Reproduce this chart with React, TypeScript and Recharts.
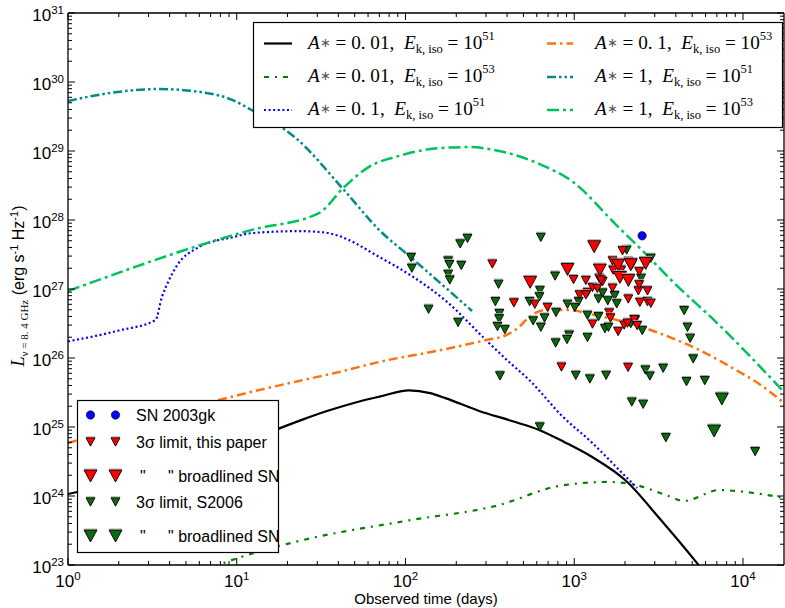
import React from 'react';
import { ComposedChart, Line, Scatter, XAxis, YAxis, Legend } from 'recharts';

const SANS = "'Liberation Sans', Arial, Helvetica, sans-serif";
const SERIF = "'Liberation Serif', 'Times New Roman', serif";

// ---- model light curves: [observed time (days), L (erg s^-1 Hz^-1)] ----
const curveA001E51: [number, number][] = [
  [1, 1.07e24], [2, 1.55e24], [4, 2.3e24], [8, 4.0e24], [12, 6.2e24], [17, 9.06e24],
  [25, 1.3e25], [35, 1.73e25], [50, 2.25e25], [70, 2.75e25], [105, 3.4e25], [140, 3.1e25],
  [174, 2.6e25], [273, 1.71e25], [428, 1.22e25], [620, 9.06e24], [871, 6.07e24], [1277, 3.67e24],
  [2032, 1.65e24], [3187, 4.8e23], [5284, 1.1e23], [8000, 3e22],
];
const curveA001E53: [number, number][] = [
  [4.5, 5.7e22], [9, 1.14e23], [23.4, 2.23e23], [100, 4.35e23], [359, 7.4e23],
  [813, 1.4e24], [1610, 1.6e24], [2330, 1.44e24], [3505, 1.03e24], [4480, 8.5e23],
  [7220, 1.22e24], [10450, 1.14e24], [17540, 9.35e23],
];
const curveA01E51: [number, number][] = [
  [1, 1.74e26], [2, 2.5e26], [3.3, 3.55e26], [3.6, 7.6e26], [3.97, 1.35e27],
  [4.37, 2.09e27], [6, 4.07e27], [9.4, 5.6e27], [12.3, 6.46e27], [23.4, 6.9e27],
  [33, 6.6e27], [40.4, 5.86e27], [70, 2.91e27], [109, 1.54e27], [174, 6.7e26],
  [300, 1.82e26], [411, 8.75e25], [541, 4.8e25], [848, 1.44e25], [1277, 5.9e24],
  [2032, 1.88e24], [2360, 1.31e24],
];
const curveA01E53: [number, number][] = [
  [1, 5.86e24], [7.86, 2.46e25], [13.6, 3.44e25], [23.4, 4.65e25], [40.4, 6.27e25],
  [69.7, 8.75e25], [174, 1.35e26], [300, 1.82e26], [395, 2.15e26], [471, 2.81e26],
  [541, 3.93e26], [681, 4.97e26], [895, 4.97e26], [1406, 4.06e26], [2205, 3.11e26],
  [3652, 2.02e26], [5500, 1.31e26], [8630, 7.2e25], [12470, 4.2e25], [17540, 2.23e25],
];
const curveA1E51: [number, number][] = [
  [1, 5.3e29], [1.75, 6.9e29], [3.46, 7.9e29], [6, 7.2e29], [9.4, 5.5e29],
  [12.3, 3.9e29], [22.4, 1.54e29], [43.3, 2.7e28], [69.7, 7.2e27], [109, 2.8e27],
  [174, 1.03e27], [248, 4.8e26],
];
const curveA1E53: [number, number][] = [
  [1, 9.35e26], [12.3, 7.2e27], [30.7, 1.26e28], [43.3, 3.0e28], [60.8, 5.9e28],
  [91.6, 8.5e28], [158, 1.1e29], [238, 1.14e29], [359, 1.0e29], [620, 6.5e28],
  [985, 3.55e28], [1771, 8.5e27], [2597, 3.4e27], [3752, 1.35e27], [7228, 3.0e26],
  [17540, 3.2e25],
];

// ---- observations ----
const sn2003gk: [number, number][] = [[2525, 5.9e27]];
const limitsThisPaper: [number, number][] = [
  [327, 2.3e27], [439, 6.3e26], [584, 6.0e26], [695, 5.4e26], [990, 1.37e27],
  [1172, 1.33e27], [1198, 8.9e26], [1283, 1.05e27], [1370, 1.02e27], [1406, 1.43e27],
  [1473, 1.28e27], [1686, 1.03e27], [1700, 1.88e27], [1897, 1.88e27], [1932, 3.58e27],
  [2090, 7.16e26], [2426, 1.78e27], [2400, 9.4e26], [2716, 9.4e26], [2449, 6.4e26],
  [2716, 6.55e26], [2844, 6.2e26], [1283, 3.1e26], [1610, 4.5e26], [1640, 3.8e26],
  [1820, 2.42e26], [1977, 3.0e26], [2068, 3.2e26], [2264, 3.6e26], [2360, 2.95e26],
  [840, 7.4e25], [2085, 7.3e25], [1686, 2.55e27], [1800, 2.27e27], [2094, 2.5e27],
  [2205, 2.27e27], [1075, 8.2e26], [1172, 8.2e26], [2426, 1.15e27], [1440, 1.35e27],
];
const limitsThisPaperBL: [number, number][] = [
  [548, 1.25e27], [912, 1.92e27], [1313, 4.1e27], [1418, 1.88e27], [1820, 2.22e27],
  [2163, 2.25e27], [1865, 1.47e27], [2094, 1.33e27], [2650, 2.35e27],
];
const limitsS2006: [number, number][] = [
  [233, 5.4e27], [211, 4.5e27], [108, 2.86e27], [109, 2.0e27], [179, 2.55e27],
  [182, 2.25e27], [214, 2.19e27], [179, 1.63e27], [183, 1.35e27], [137, 5.08e26],
  [205, 3.27e26], [634, 5.6e27], [356, 1.17e27], [341, 6.55e26], [360, 4.4e26],
  [359, 3.7e26], [351, 2.85e26], [388, 2.57e26], [544, 6.55e26], [626, 9.5e26],
  [622, 7.7e26], [634, 2.79e26], [571, 3.45e26], [667, 3.8e26], [770, 1.54e27],
  [780, 4.56e26], [776, 1.65e26], [912, 6.0e26], [933, 2.15e26], [906, 1.85e26],
  [1062, 6.55e26], [1008, 5.4e26], [1198, 1.98e26], [1198, 4.15e26], [1392, 3.97e26],
  [1392, 7.16e26], [1580, 6.75e26], [1473, 8.75e26], [1735, 8.0e26], [1786, 6.1e26],
  [2045, 3.67e27], [2490, 1.43e27], [2844, 2.79e27], [363, 5.5e25], [1021, 5.6e25],
  [1238, 4.96e25], [1545, 5.6e25], [2640, 6.7e25], [2806, 5.48e25], [2193, 2.3e25],
  [2560, 2.13e25], [1520, 2.66e26], [1595, 2.79e26], [2163, 3.15e26], [2296, 3.56e26],
  [2530, 2.5e26], [4480, 4.85e26], [4688, 2.79e26], [4864, 1.93e26], [5070, 9.7e25],
  [3365, 7.1e25], [4625, 4.54e25], [5940, 4.7e25], [3493, 7.0e24], [11800, 4.4e24],
  [625, 1.0e25],
];
const limitsS2006BL: [number, number][] = [[7497, 2.55e25], [6745, 8.75e24]];

// ---- axes ----
const X_MIN = 1;
const X_MAX = 17500;
const Y_MIN = 1e23;
const Y_MAX = 1e31;
const xMajorExponents = [0, 1, 2, 3, 4];
const yMajorExponents = [23, 24, 25, 26, 27, 28, 29, 30, 31];
const minorMultipliers = [1, 2, 3, 4, 5, 6, 7, 8, 9];

const xTicks: number[] = [];
xMajorExponents.forEach((e) => minorMultipliers.forEach((m) => {
  const v = m * Math.pow(10, e);
  if (v <= X_MAX) xTicks.push(v);
}));
const yTicks: number[] = [];
yMajorExponents.forEach((e) => minorMultipliers.forEach((m) => {
  const v = m * Math.pow(10, e);
  if (v <= Y_MAX * 1.0001) yTicks.push(v);
}));

const toRows = (arr: [number, number][]) => arr.map(([t, L]) => ({ t, L }));

const COLORS = {
  black: '#000000',
  dkgreen: '#008000',
  blue: '#0000ff',
  orange: '#ff7410',
  teal: '#008b8b',
  green: '#00c25a',
  red: '#ff0000',
  obsGreen: '#0b6a0b',
};

const series = [
  { key: 'a001e51', data: curveA001E51, color: COLORS.black, dash: undefined as string | undefined, width: 2.2, a: '0. 01', e: '51' },
  { key: 'a001e53', data: curveA001E53, color: COLORS.dkgreen, dash: '5 6 2 6', width: 2.2, a: '0. 01', e: '53' },
  { key: 'a01e51', data: curveA01E51, color: COLORS.blue, dash: '2 2.6', width: 2.2, a: '0. 1', e: '51' },
  { key: 'a01e53', data: curveA01E53, color: COLORS.orange, dash: '9 4 2.5 4', width: 2.5, a: '0. 1', e: '53' },
  { key: 'a1e51', data: curveA1E51, color: COLORS.teal, dash: '9 3 2.5 3 2.5 3', width: 2.5, a: '1', e: '51' },
  { key: 'a1e53', data: curveA1E53, color: COLORS.green, dash: '12 4 3 4', width: 2.5, a: '1', e: '53' },
];

const isMajor = (v: number) => {
  const l = Math.log10(v);
  return Math.abs(l - Math.round(l)) < 1e-6;
};

const Pow10 = ({ x, y, exp, anchor }: { x: number; y: number; exp: number; anchor: string }) => (
  <text x={x} y={y} textAnchor={anchor} fontFamily={SANS} fontSize={17} fill="#000">
    <tspan>10</tspan>
    <tspan dy={-7} fontSize={11.5}>{exp}</tspan>
  </text>
);

const BottomTick = (p: any) => {
  const { x, y, payload } = p;
  const v = payload.value;
  const major = isMajor(v);
  return (
    <g>
      <line x1={x} x2={x} y1={y} y2={y - (major ? 7 : 4)} stroke="#000" strokeWidth={1} />
      {major && <Pow10 x={x} y={y + 22} exp={Math.round(Math.log10(v))} anchor="middle" />}
    </g>
  );
};
const TopTick = (p: any) => {
  const { x, y, payload } = p;
  const major = isMajor(payload.value);
  return <line x1={x} x2={x} y1={y} y2={y + (major ? 7 : 4)} stroke="#000" strokeWidth={1} />;
};
const LeftTick = (p: any) => {
  const { x, y, payload } = p;
  const v = payload.value;
  const major = isMajor(v);
  return (
    <g>
      <line x1={x} x2={x + (major ? 7 : 4)} y1={y} y2={y} stroke="#000" strokeWidth={1} />
      {major && <Pow10 x={x - 4} y={y + 8} exp={Math.round(Math.log10(v))} anchor="end" />}
    </g>
  );
};
const RightTick = (p: any) => {
  const { x, y, payload } = p;
  const major = isMajor(payload.value);
  return <line x1={x} x2={x - (major ? 7 : 4)} y1={y} y2={y} stroke="#000" strokeWidth={1} />;
};

const triangle = (w: number, fill: string) => (p: any) => {
  const { cx, cy } = p;
  if (cx == null || cy == null) return <g />;
  const h = w * 0.92;
  const top = cy - h / 2;
  return (
    <g>
      <line x1={cx - w / 2} x2={cx + w / 2} y1={top - 1} y2={top - 1} stroke="#aaa" strokeWidth={1} />
      <path d={`M${cx - w / 2},${top}L${cx + w / 2},${top}L${cx},${cy + h / 2}Z`} fill={fill} stroke="#000" strokeWidth={0.9} />
    </g>
  );
};
const circle = (p: any) => {
  const { cx, cy } = p;
  if (cx == null || cy == null) return <g />;
  return <circle cx={cx} cy={cy} r={4.2} fill={COLORS.blue} stroke="#000" strokeWidth={0.6} />;
};

const TriIcon = ({ cx, cy, w, fill }: { cx: number; cy: number; w: number; fill: string }) => triangle(w, fill)({ cx, cy });

const MathLabel = ({ x, y, a, e }: { x: number; y: number; a: string; e: string }) => (
  <text x={x} y={y} fontFamily={SERIF} fontSize={19.2} fill="#000" style={{ whiteSpace: 'pre' }} xmlSpace="preserve">
    <tspan fontStyle="italic">A</tspan>
    <tspan fontSize={12.5} dy={-2} fill="#555">∗</tspan>
    <tspan fontSize={19.2} dy={2}>{` = ${a},  `}</tspan>
    <tspan fontStyle="italic">E</tspan>
    <tspan fontSize={12.5} dy={4}>k, iso</tspan>
    <tspan fontSize={19.2} dy={-4}>{' = 10'}</tspan>
    <tspan fontSize={12.5} dy={-9}>{e}</tspan>
  </text>
);

const legendRowsY = [43.5, 77, 110];
const legendColX = [{ l1: 264, l2: 292, tx: 308 }, { l1: 547, l2: 573, tx: 595 }];

const obsLegend = [
  { kind: 'circle', label: 'SN 2003gk', y: 415 },
  { kind: 'redSmall', label: '3σ limit, this paper', y: 442 },
  { kind: 'redLarge', label: 'broadlined SN', y: 476 },
  { kind: 'greenSmall', label: '3σ limit, S2006', y: 502 },
  { kind: 'greenLarge', label: 'broadlined SN', y: 536 },
];

const LegendOverlay = () => (
  <svg width={785} height={608} style={{ position: 'absolute', left: 0, top: 0, pointerEvents: 'none' }}>
    <rect x={253.5} y={22.5} width={529} height={105} fill="#fff" stroke="#000" strokeWidth={1.2} />
    {series.map((s, i) => {
      const col = legendColX[Math.floor(i / 3)];
      const y = legendRowsY[i % 3];
      return (
        <g key={s.key}>
          <line x1={col.l1} x2={col.l2} y1={y} y2={y} stroke={s.color} strokeWidth={s.width} strokeDasharray={s.dash} />
          <MathLabel x={col.tx} y={y + 5} a={s.a} e={s.e} />
        </g>
      );
    })}
    <rect x={77.5} y={400.5} width={201} height={152} fill="#fff" stroke="#000" strokeWidth={1.2} />
    {obsLegend.map((o) => {
      const xs = [90.5, 115.5];
      return (
        <g key={o.kind}>
          {xs.map((cx) => {
            if (o.kind === 'circle') return <circle key={cx} cx={cx} cy={o.y} r={4.2} fill={COLORS.blue} stroke="#000" strokeWidth={0.6} />;
            if (o.kind === 'redSmall') return <TriIcon key={cx} cx={cx} cy={o.y} w={9} fill={COLORS.red} />;
            if (o.kind === 'redLarge') return <TriIcon key={cx} cx={cx} cy={o.y} w={13} fill={COLORS.red} />;
            if (o.kind === 'greenSmall') return <TriIcon key={cx} cx={cx} cy={o.y} w={9} fill={COLORS.obsGreen} />;
            return <TriIcon key={cx} cx={cx} cy={o.y} w={13} fill={COLORS.obsGreen} />;
          })}
          {o.kind === 'redLarge' || o.kind === 'greenLarge' ? (
            <g>
              <text x={140} y={o.y + 5.5} fontFamily={SANS} fontSize={16} fill="#000">"</text>
              <text x={168} y={o.y + 5.5} fontFamily={SANS} fontSize={16} fill="#000">{'" ' + o.label}</text>
            </g>
          ) : (
            <text x={136} y={o.y + 5.5} fontFamily={SANS} fontSize={16} fill="#000">{o.label}</text>
          )}
        </g>
      );
    })}
    <text transform="translate(24,286) rotate(-90)" textAnchor="middle" fill="#000">
      <tspan fontFamily={SERIF} fontStyle="italic" fontSize={18}>L</tspan>
      <tspan fontFamily={SERIF} fontSize={11} dy={4}>ν = 8. 4 GHz</tspan>
      <tspan fontFamily={SANS} fontSize={16} dy={-4}>{' (erg s'}</tspan>
      <tspan fontFamily={SANS} fontSize={11} dy={-6}>-1</tspan>
      <tspan fontFamily={SANS} fontSize={16} dy={6}>{' Hz'}</tspan>
      <tspan fontFamily={SANS} fontSize={11} dy={-6}>-1</tspan>
      <tspan fontFamily={SANS} fontSize={16} dy={6}>)</tspan>
    </text>
    <text x={426} y={604} textAnchor="middle" fontFamily={SANS} fontSize={15} fill="#000">Observed time (days)</text>
  </svg>
);

export default function App() {
  return (
    <div style={{ position: 'absolute', left: 0, top: 0, width: 785, height: 608, background: '#fff' }}>
      <ComposedChart width={785} height={608} margin={{ top: 12, right: 0, bottom: 0, left: 0 }}>
        <XAxis
          dataKey="t" type="number" scale="log" domain={[X_MIN, X_MAX]} allowDataOverflow
          ticks={xTicks} interval={0} tickSize={0} tickMargin={0} tickLine={false} height={43}
          axisLine={{ stroke: '#000', strokeWidth: 1.3 }} tick={(p: any) => <BottomTick {...p} />}
        />
        <XAxis
          xAxisId="top" orientation="top" dataKey="t" type="number" scale="log" domain={[X_MIN, X_MAX]} allowDataOverflow
          ticks={xTicks} interval={0} tickSize={0} tickMargin={0} tickLine={false} height={1}
          axisLine={{ stroke: '#000', strokeWidth: 1.3 }} tick={(p: any) => <TopTick {...p} />}
        />
        <YAxis
          dataKey="L" type="number" scale="log" domain={[Y_MIN, Y_MAX]} allowDataOverflow
          ticks={yTicks} interval={0} tickSize={0} tickMargin={0} tickLine={false} width={68}
          axisLine={{ stroke: '#000', strokeWidth: 1.3 }} tick={(p: any) => <LeftTick {...p} />}
        />
        <YAxis
          yAxisId="right" orientation="right" dataKey="L" type="number" scale="log" domain={[Y_MIN, Y_MAX]} allowDataOverflow
          ticks={yTicks} interval={0} tickSize={0} tickMargin={0} tickLine={false} width={1}
          axisLine={{ stroke: '#000', strokeWidth: 1.3 }} tick={(p: any) => <RightTick {...p} />}
        />
        {series.map((s) => (
          <Line
            key={s.key} data={toRows(s.data)} dataKey="L" type="monotone" stroke={s.color}
            strokeWidth={s.width} strokeDasharray={s.dash} dot={false} activeDot={false}
            isAnimationActive={false}
          />
        ))}
        <Scatter data={toRows(limitsS2006)} dataKey="L" shape={triangle(9, COLORS.obsGreen)} isAnimationActive={false} />
        <Scatter data={toRows(limitsThisPaper)} dataKey="L" shape={triangle(9, COLORS.red)} isAnimationActive={false} />
        <Scatter data={toRows(limitsS2006BL)} dataKey="L" shape={triangle(13, COLORS.obsGreen)} isAnimationActive={false} />
        <Scatter data={toRows(limitsThisPaperBL)} dataKey="L" shape={triangle(13, COLORS.red)} isAnimationActive={false} />
        <Scatter data={toRows(sn2003gk)} dataKey="L" shape={circle} isAnimationActive={false} />
        <Legend
          layout="vertical" align="center" verticalAlign="middle"
          wrapperStyle={{ position: 'absolute', left: 0, top: 0, width: 785, height: 608, pointerEvents: 'none' }}
          content={() => <LegendOverlay />}
        />
      </ComposedChart>
    </div>
  );
}
